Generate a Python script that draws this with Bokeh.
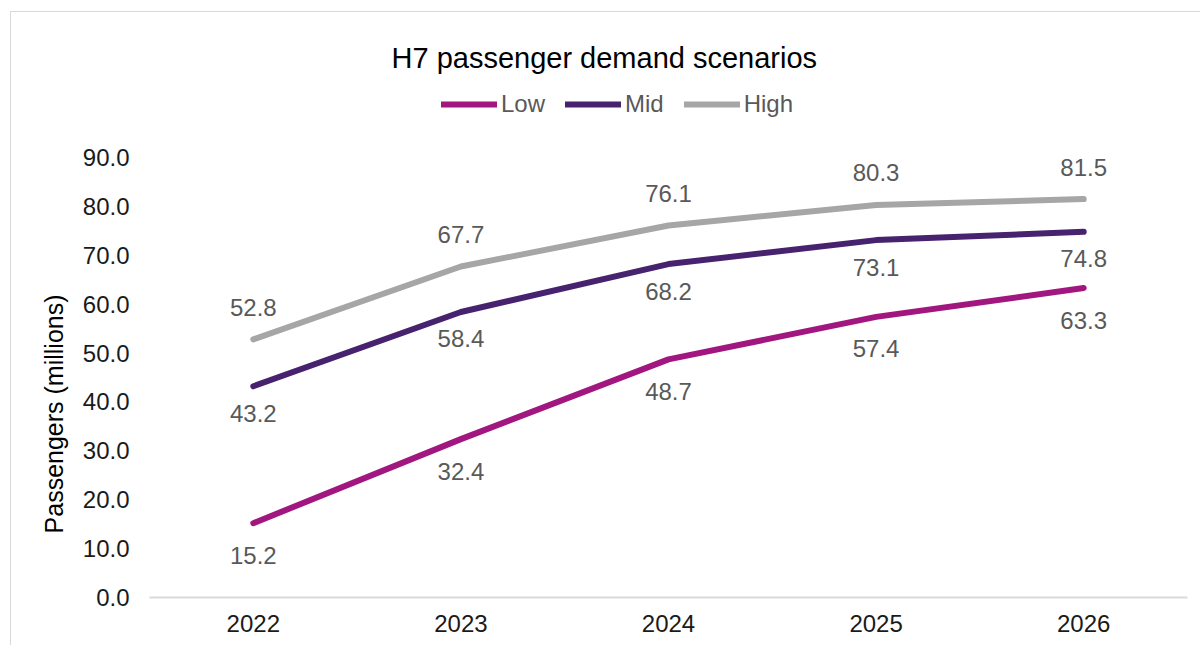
from bokeh.plotting import figure
from bokeh.models import ColumnDataSource, LabelSet, Legend, LegendItem, NumeralTickFormatter, FixedTicker, Range1d
from bokeh.core.properties import value
from bokeh.embed import file_html
from bokeh.resources import INLINE

years = ["2022", "2023", "2024", "2025", "2026"]
low = [15.2, 32.4, 48.7, 57.4, 63.3]
mid = [43.2, 58.4, 68.2, 73.1, 74.8]
high = [52.8, 67.7, 76.1, 80.3, 81.5]
y_ticks = [0, 10, 20, 30, 40, 50, 60, 70, 80, 90]

FONT = "Liberation Sans"
LOW_C, MID_C, HIGH_C = "#A1167F", "#47226E", "#A6A6A6"
NBSP = "\u00a0"

# frame spans page y 90..596 so that the legend (drawn inside the frame) is not clipped;
# the 0..90 scale still maps to page y 596..156
p = figure(x_range=years, y_range=Range1d(0, 103.5), width=1190, height=634,
           output_backend="svg", toolbar_location=None,
           min_border_left=138, min_border_right=14, min_border_top=79, min_border_bottom=49)
p.margin = (11, 0, 0, 10)
p.styles = {"border-top": "1px solid #D9D9D9", "border-left": "1px solid #D9D9D9"}
p.outline_line_color = None
p.xgrid.grid_line_color = None
p.ygrid.grid_line_color = None
p.background_fill_color = "white"
p.border_fill_color = "white"

p.title.text = "H7 passenger demand scenarios"
p.title.text_font = FONT
p.title.text_font_size = "29px"
p.title.text_font_style = "normal"
p.title.text_color = "#000000"
p.title.align = "left"
p.title.offset = 242
p.title.standoff = 35

src = ColumnDataSource(dict(x=years, low=low, mid=mid, high=high,
                            low_t=[f"{v:.1f}" for v in low],
                            mid_t=[f"{v:.1f}" for v in mid],
                            high_t=[f"{v:.1f}" for v in high]))

r_low = p.line("x", "low", source=src, line_color=LOW_C, line_width=6, line_cap="round", line_join="round")
r_mid = p.line("x", "mid", source=src, line_color=MID_C, line_width=6, line_cap="round", line_join="round")
r_high = p.line("x", "high", source=src, line_color=HIGH_C, line_width=6, line_cap="round", line_join="round")

for col, off in (("low", -32), ("mid", -27), ("high", 32)):
    p.add_layout(LabelSet(x="x", y=col, text=col + "_t", source=src, y_offset=off,
                          text_align="center", text_baseline="middle",
                          text_font=value(FONT), text_font_size=value("24px"), text_color="#595959"))

# axes
p.yaxis.ticker = FixedTicker(ticks=y_ticks)
p.yaxis.formatter = NumeralTickFormatter(format="0.0")
p.yaxis.axis_line_color = None
p.yaxis.major_tick_line_color = None
p.yaxis.minor_tick_line_color = None
p.yaxis.major_tick_out = 0
p.yaxis.major_tick_in = 0
p.yaxis.major_label_standoff = 20
p.yaxis.major_label_text_font = FONT
p.yaxis.major_label_text_font_size = "24px"
p.yaxis.major_label_text_color = "#1A1A1A"
p.yaxis.axis_label = "Passengers (millions)" + NBSP * 20
p.yaxis.axis_label_text_font = FONT
p.yaxis.axis_label_text_font_size = "25px"
p.yaxis.axis_label_text_font_style = "normal"
p.yaxis.axis_label_text_color = "#000000"
p.yaxis.axis_label_standoff = 12

p.xaxis.axis_line_color = "#D9D9D9"
p.xaxis.axis_line_width = 2
p.xaxis.major_tick_line_color = None
p.xaxis.minor_tick_line_color = None
p.xaxis.major_tick_out = 0
p.xaxis.major_tick_in = 0
p.xaxis.major_label_standoff = 17
p.xaxis.major_label_text_font = FONT
p.xaxis.major_label_text_font_size = "24px"
p.xaxis.major_label_text_color = "#1A1A1A"

legend = Legend(items=[LegendItem(label="Low", renderers=[r_low]),
                       LegendItem(label="Mid", renderers=[r_mid]),
                       LegendItem(label="High", renderers=[r_high])],
                orientation="horizontal", location=(292, 479),
                glyph_width=56, glyph_height=24, label_height=24, label_standoff=4, spacing=20,
                padding=0, margin=0, border_line_color=None, background_fill_alpha=0,
                label_text_font=FONT, label_text_font_size="24px", label_text_color="#595959")
p.add_layout(legend, "center")

open("out.html", "w").write(file_html(p, INLINE))
